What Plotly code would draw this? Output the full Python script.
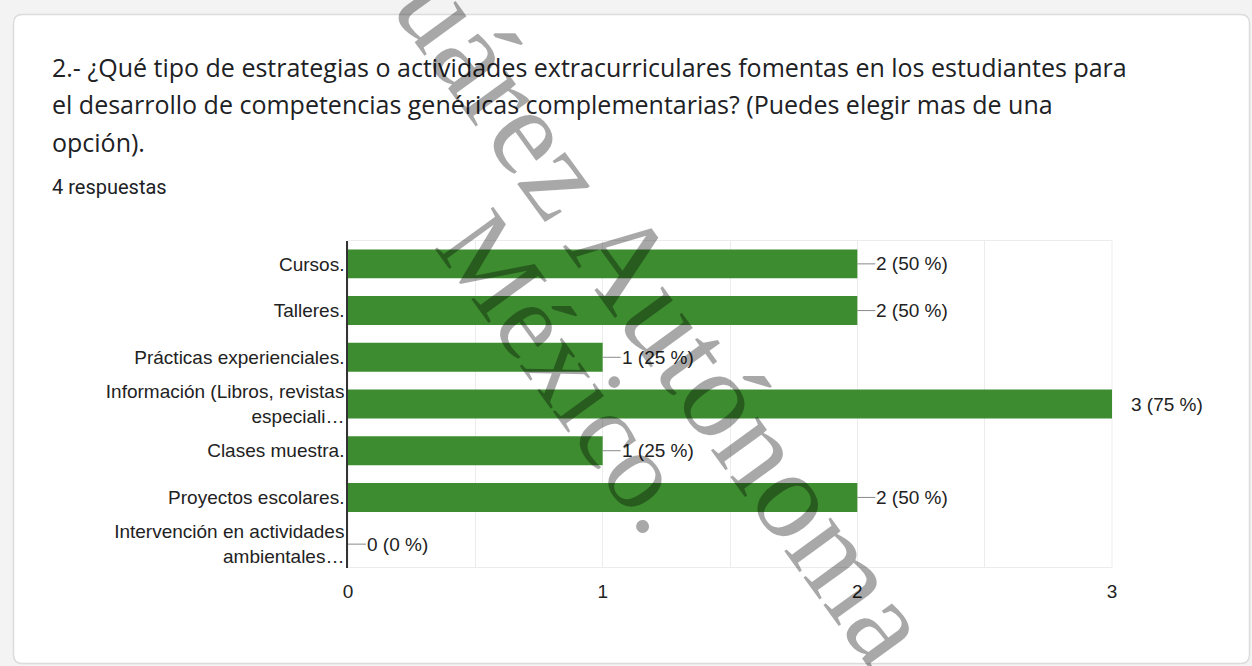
import plotly.graph_objects as go

W, H = 1252, 666

categories = [
    "Cursos.",
    "Talleres.",
    "Prácticas experienciales.",
    "Información (Libros, revistas<br>especiali…",
    "Clases muestra.",
    "Proyectos escolares.",
    "Intervención en actividades<br>ambientales…",
]
counts = [2, 2, 1, 3, 1, 2, 0]
percents = [50, 50, 25, 75, 25, 50, 0]
x_ticks = [0, 1, 2, 3]

title_lines = [
    "2.- ¿Qué tipo de estrategias o actividades extracurriculares fomentas en los estudiantes para",
    "el desarrollo de competencias genéricas complementarias? (Puedes elegir mas de una",
    "opción).",
]
subtitle = "4 respuestas"

GREEN = "#3d8c30"
LABEL_FONT = dict(family="Liberation Sans, Arial", size=19, color="#222222")

def px(x):
    return x / W

def py(y):
    return 1 - y / H

fig = go.Figure()
fig.add_trace(go.Bar(
    x=counts, y=categories, orientation="h",
    marker=dict(color=GREEN, line=dict(width=0)),
    width=0.62, hoverinfo="skip",
))

shapes = []
annotations = []

# card
x0, x1, y0, y1, r = 13.5, 1249.5, 14.5, 663.5, 9
path = (f"M {px(x0+r)},{py(y0)} L {px(x1-r)},{py(y0)} Q {px(x1)},{py(y0)} {px(x1)},{py(y0+r)} "
        f"L {px(x1)},{py(y1-r)} Q {px(x1)},{py(y1)} {px(x1-r)},{py(y1)} "
        f"L {px(x0+r)},{py(y1)} Q {px(x0)},{py(y1)} {px(x0)},{py(y1-r)} "
        f"L {px(x0)},{py(y0+r)} Q {px(x0)},{py(y0)} {px(x0+r)},{py(y0)} Z")
shapes.append(dict(type="path", path=path, xref="paper", yref="paper",
                   fillcolor="white", line=dict(color="#dcdcdc", width=1.5), layer="below"))

# plot frame
dx0, dx1 = px(348), px(1112)
dy0, dy1 = py(567.5), py(240.5)
shapes.append(dict(type="rect", xref="paper", yref="paper", x0=dx0, x1=dx1, y0=dy0, y1=dy1,
                   line=dict(color="#ececec", width=1), layer="below"))

# data labels with leader lines
max_c = max(counts)
for c, p, cat in zip(counts, percents, categories):
    line_len = 4 if c == max_c else 18
    shapes.append(dict(type="line", xref="x", yref="y", xsizemode="pixel", xanchor=c,
                       x0=0, x1=line_len, y0=cat, y1=cat,
                       line=dict(color="#8a8a8a", width=1), layer="above"))
    annotations.append(dict(x=c, y=cat, xref="x", yref="y", text=f"{c} ({p} %)",
                            showarrow=False, xanchor="left", yanchor="middle", xshift=17,
                            font=LABEL_FONT))

# title
for t, yy in zip(title_lines, [67, 104, 142]):
    annotations.append(dict(x=px(50), y=py(yy), xref="paper", yref="paper", text=t,
                            showarrow=False, xanchor="left", yanchor="middle",
                            font=dict(family="Open Sans, Roboto, Arial", size=25, color="#202124")))
annotations.append(dict(x=px(50), y=py(187), xref="paper", yref="paper", text=subtitle,
                        showarrow=False, xanchor="left", yanchor="middle",
                        font=dict(family="Roboto, Arial", size=20, color="#202124")))

# watermark
annotations.append(dict(x=px(650), y=py(295), xref="paper", yref="paper", text="Juárez Autónoma",
                        showarrow=False, textangle=54,
                        font=dict(family="Liberation Serif, Times New Roman", size=125,
                                  color="rgba(0,0,0,0.34)")))
annotations.append(dict(x=px(570), y=py(372), xref="paper", yref="paper", text="México.",
                        showarrow=False, textangle=54,
                        font=dict(family="Liberation Serif, Times New Roman", size=110,
                                  color="rgba(0,0,0,0.34)")))

fig.update_layout(
    width=W, height=H,
    margin=dict(l=0, r=0, t=0, b=0),
    paper_bgcolor="#f3f3f3",
    plot_bgcolor="rgba(0,0,0,0)",
    showlegend=False,
    shapes=shapes,
    annotations=annotations,
    xaxis=dict(domain=[dx0, dx1], range=[0, 3], tickvals=x_ticks, ticktext=[str(v) for v in x_ticks],
               showgrid=True, gridcolor="#ececec", gridwidth=1,
               minor=dict(dtick=0.5, showgrid=True, gridcolor="#ececec"),
               zeroline=False, showline=False, ticks="", automargin=False, ticklabelstandoff=10,
               tickfont=LABEL_FONT, fixedrange=True),
    yaxis=dict(domain=[dy0, dy1], autorange="reversed", categoryorder="array", categoryarray=categories,
               showgrid=False, zeroline=False, showline=True, linecolor="#333333", linewidth=1.5,
               ticks="", ticklabelstandoff=-2, automargin=False,
               tickfont=LABEL_FONT, fixedrange=True),
)

fig.write_html("out.html")
